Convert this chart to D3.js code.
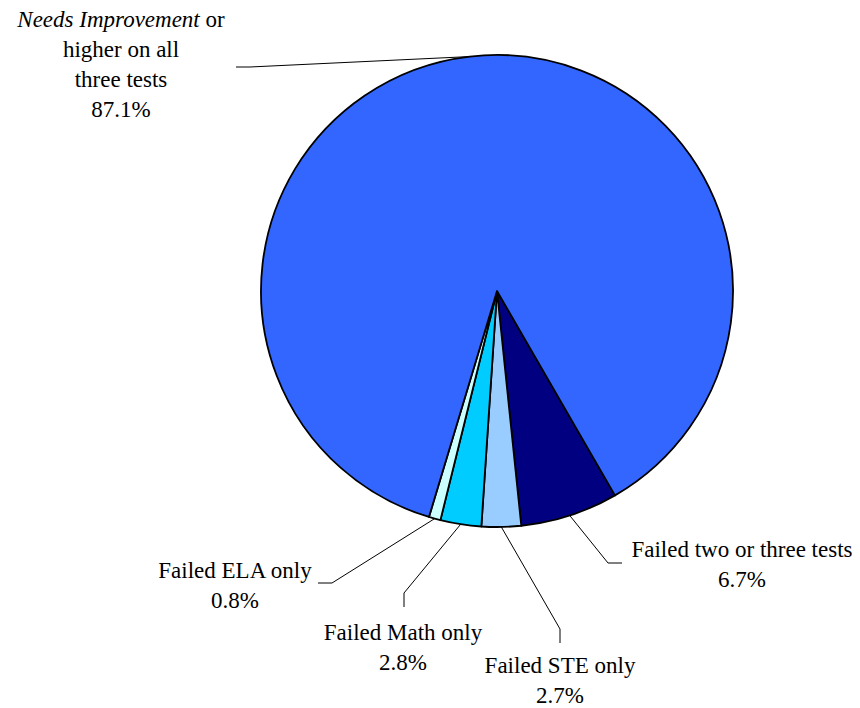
<!DOCTYPE html>
<html>
<head>
<meta charset="utf-8">
<script src="https://cdn.jsdelivr.net/npm/d3@7"></script>
<style>
  body { margin: 0; background: #fff; }
  svg text { font-family: "Liberation Serif", "Times New Roman", Times, Tinos, "DejaVu Serif", serif; font-size: 23px; fill: #000; }
</style>
</head>
<body>
<div id="chart"></div>
<script>
// slice data, in clockwise order starting at the navy slice
var categories = ["Failed two or three tests", "Failed STE only", "Failed Math only", "Failed ELA only", "Needs Improvement or higher on all three tests"];
var values = [6.7, 2.7, 2.8, 0.8, 87.1];
var colors = ["#000080", "#99CCFF", "#00CCFF", "#CCFFFF", "#3366FF"];

var svgW = 860, svgH = 708;
var cx = 497, cy = 291, radius = 236;

// label layout: text center, first baseline, leader elbow and end
var labelLayout = [
  { x: 742, y: 557, elbow: [608, 563], end: [622, 563] },
  { x: 560, y: 673, elbow: [560, 629], end: [560, 643] },
  { x: 403, y: 640, elbow: [404, 593], end: [404, 607] },
  { x: 235, y: 578, elbow: [332, 583], end: [318, 583] },
  { x: 121, y: 27, elbow: [250, 67], end: [236, 67] }
];

var svg = d3.select("#chart").append("svg")
  .attr("width", svgW)
  .attr("height", svgH);

var g = svg.append("g").attr("transform", `translate(${cx}, ${cy})`);

var data = categories.map((c, i) => ({ name: c, value: values[i], color: colors[i], lay: labelLayout[i] }));

var pie = d3.pie()
  .sort(null)
  .value(d => d.value)
  .startAngle(150 * Math.PI / 180)
  .endAngle(510 * Math.PI / 180);

var arc = d3.arc().innerRadius(0).outerRadius(radius);

var arcs = pie(data);

g.selectAll("path.slice")
  .data(arcs)
  .enter()
  .append("path")
  .attr("class", "slice")
  .attr("d", arc)
  .attr("fill", d => d.data.color)
  .attr("stroke", "#000")
  .attr("stroke-width", 1.8)
  .attr("stroke-linejoin", "round");

// leader lines
svg.selectAll("polyline.leader")
  .data(arcs)
  .enter()
  .append("polyline")
  .attr("class", "leader")
  .attr("points", function(d) {
    var mid = (d.startAngle + d.endAngle) / 2;
    var p = d3.pointRadial(mid, radius);
    var L = d.data.lay;
    return [[cx + p[0], cy + p[1]], L.elbow, L.end].map(q => q.join(",")).join(" ");
  })
  .attr("fill", "none")
  .attr("stroke", "#000")
  .attr("stroke-width", 1);

// labels
var fmt = v => v.toFixed(1) + "%";
arcs.forEach(function(d, i) {
  var L = d.data.lay;
  var t = svg.append("text").attr("text-anchor", "middle");
  if (i === 4) {
    var l1 = t.append("tspan").attr("x", L.x).attr("y", L.y);
    l1.append("tspan").attr("font-style", "italic").text("Needs Improvement");
    l1.append("tspan").text(" or");
    t.append("tspan").attr("x", L.x).attr("y", L.y + 30).text("higher on all");
    t.append("tspan").attr("x", L.x).attr("y", L.y + 60).text("three tests");
    t.append("tspan").attr("x", L.x).attr("y", L.y + 90).text(fmt(d.data.value));
  } else {
    t.append("tspan").attr("x", L.x).attr("y", L.y).text(d.data.name);
    t.append("tspan").attr("x", L.x).attr("y", L.y + 30).text(fmt(d.data.value));
  }
});
</script>
</body>
</html>
